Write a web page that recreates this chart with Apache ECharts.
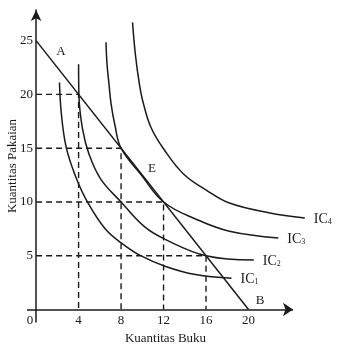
<!DOCTYPE html>
<html>
<head>
<meta charset="utf-8">
<style>
  html, body { margin: 0; padding: 0; background: #fff; }
  #chart { width: 341px; height: 350px; }
</style>
<script src="https://cdn.jsdelivr.net/npm/echarts@6/dist/echarts.min.js"></script>
</head>
<body>
<div id="chart"></div>
<script>
// Budget line: Pakaian intercept 25, Buku intercept 20
const budgetLine = [[0, 25], [20, 0]];

// Indifference curves (Buku, Pakaian)
const ic1 = [[2.2, 21.1], [2.37, 18.3], [2.83, 15.1], [3.75, 12.3], [4.83, 10.0], [6.5, 7.5], [8.0, 6.2], [9.75, 5.05], [12.2, 4.0], [15.0, 3.25], [18.4, 2.9]];
const ic2 = [[4.0, 22.8], [4.03, 20.0], [4.37, 16.8], [5.0, 14.4], [6.1, 12.1], [8.0, 10.0], [10.2, 7.7], [12.2, 6.5], [16.0, 5.0], [20.5, 4.6]];
const ic3 = [[6.58, 24.85], [6.68, 22.8], [6.86, 21.0], [7.05, 19.2], [7.41, 17.2], [8.0, 15.0], [9.91, 12.5], [12.0, 10.0], [15.17, 8.35], [18.2, 7.28], [22.8, 6.65]];
const ic4 = [[9.08, 26.7], [9.35, 23.7], [9.72, 21.0], [10.09, 19.2], [10.83, 16.9], [12.03, 14.9], [13.88, 12.6], [16.09, 11.06], [18.2, 9.9], [21.9, 9.0], [25.3, 8.5]];
const icCurves = [ic1, ic2, ic3, ic4];

// Bundles on the budget line, projected onto both axes
const guidePoints = [[4, 20], [8, 15], [12, 10], [16, 5]];

// Axis tick labels
const xTicks = [0, 4, 8, 12, 16, 20];
const yTicks = [5, 10, 15, 20, 25];

// Point letters (A, E, B)
const pointLetters = [[2.34, 23.94, 'A'], [10.91, 13.06, 'E'], [21.08, 0.79, 'B']];

// Horizontal axis extent (drawn with an arrow head)
const X_MIN = -0.857, X_ARROW = 24.19, X_MAX = 25.79;
const Y_MIN = -1.162, Y_MAX = 27.85;

const SERIF = '"Liberation Serif", "DejaVu Serif", serif';
const INK = '#1a1a1a';

const chart = echarts.init(document.getElementById('chart'), null, { renderer: 'canvas' });

const guideSeries = guidePoints.map(function (p) {
  return {
    type: 'line',
    data: [[0, p[1]], [p[0], p[1]], [p[0], 0]],
    symbol: 'none',
    silent: true,
    z: 1,
    lineStyle: { color: INK, width: 1.4, type: [6, 4] }
  };
});

const curveSeries = icCurves.map(function (pts, i) {
  return {
    type: 'line',
    name: 'IC' + (i + 1),
    data: pts,
    symbol: 'none',
    smooth: 0.4,
    clip: false,
    z: 3,
    lineStyle: { color: INK, width: 1.5 },
    endLabel: {
      show: true,
      distance: 9,
      formatter: '{m|IC}{s|' + (i + 1) + '}',
      rich: {
        m: { fontFamily: SERIF, fontSize: 14, color: INK, lineHeight: 16, verticalAlign: 'bottom' },
        s: { fontFamily: SERIF, fontSize: 8, color: INK, lineHeight: 16, verticalAlign: 'bottom', padding: [5, 0, 0, 0] }
      }
    }
  };
});

chart.setOption({
  animation: false,
  backgroundColor: '#fff',
  grid: { left: 27, right: 31, top: 10, bottom: 28, containLabel: false, outerBoundsMode: 'none' },
  xAxis: {
    type: 'value',
    min: X_MIN,
    max: X_MAX,
    splitLine: { show: false },
    axisTick: { show: false },
    axisLine: { show: false },
    axisLabel: {
      customValues: xTicks,
      margin: -8,
      fontFamily: SERIF,
      fontSize: 13,
      color: INK,
      formatter: function (v) { return v === 0 ? '{z|0}' : String(v); },
      rich: { z: { fontFamily: SERIF, fontSize: 13, color: INK, padding: [0, 12, 0, 0] } }
    },
    name: 'Kuantitas Buku',
    nameLocation: 'middle',
    nameGap: 10,
    nameMoveOverlap: false,
    nameTextStyle: { fontFamily: SERIF, fontSize: 13, color: INK, padding: [0, 6, 0, 0] }
  },
  yAxis: {
    type: 'value',
    min: Y_MIN,
    max: Y_MAX,
    splitLine: { show: false },
    axisTick: { show: false },
    axisLine: {
      onZero: true,
      lineStyle: { color: INK, width: 1.5 },
      symbol: ['none', 'arrow'],
      symbolSize: [8, 11]
    },
    axisLabel: {
      customValues: yTicks,
      margin: -6,
      fontFamily: SERIF,
      fontSize: 13,
      color: INK
    },
    name: 'Kuantitas Pakaian',
    nameLocation: 'middle',
    nameRotate: 90,
    nameGap: 8,
    nameMoveOverlap: false,
    nameTextStyle: { fontFamily: SERIF, fontSize: 13, color: INK }
  },
  series: [].concat(guideSeries, [
    {
      type: 'line',
      data: budgetLine,
      symbol: 'none',
      z: 4,
      lineStyle: { color: INK, width: 1.5 },
      // horizontal axis line with arrow head
      markLine: {
        silent: true,
        symbol: ['none', 'arrow'],
        symbolSize: 10,
        label: { show: false },
        lineStyle: { color: INK, width: 1.5, type: 'solid' },
        emphasis: { disabled: true },
        data: [[{ coord: [X_MIN, 0] }, { coord: [X_ARROW, 0] }]]
      }
    }
  ], curveSeries, [
    {
      type: 'scatter',
      data: pointLetters,
      symbolSize: 0,
      silent: true,
      z: 5,
      itemStyle: { opacity: 1, color: 'transparent' },
      label: {
        show: true,
        position: 'inside',
        formatter: function (p) { return p.value[2]; },
        fontFamily: SERIF,
        fontSize: 13,
        color: INK,
        opacity: 1
      }
    }
  ])
});
</script>
</body>
</html>
